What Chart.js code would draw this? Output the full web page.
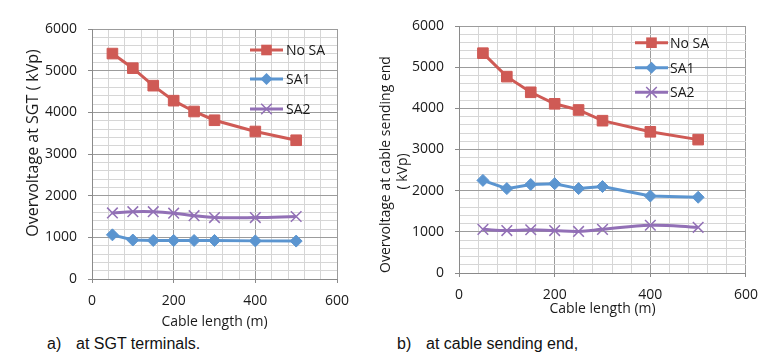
<!DOCTYPE html>
<html><head><meta charset="utf-8">
<script src="https://cdn.jsdelivr.net/npm/chart.js@4/dist/chart.umd.min.js"></script>
<style>
html,body{margin:0;padding:0;background:#fff;width:768px;height:360px;overflow:hidden;position:relative;font-family:"Liberation Sans",Arial,sans-serif;}
canvas{position:absolute;top:0;}
#ca{left:0}
#cb{left:376px}
.cap{position:absolute;font-size:16px;color:#111;top:335px;white-space:pre;line-height:18px;}
</style></head><body>
<canvas id="ca" width="384" height="335"></canvas>
<canvas id="cb" width="392" height="335"></canvas>
<div class="cap" style="left:47px">a)</div><div class="cap" style="left:76px">at SGT terminals.</div>
<div class="cap" style="left:397px">b)</div><div class="cap" style="left:426px">at cable sending end,</div>
<script>
// ---- data ----
const cableLength = [50, 100, 150, 200, 250, 300, 400, 500];
const seriesNames = ['No SA', 'SA1', 'SA2'];
// a) at SGT terminals
const sgtNoSA = [5410, 5060, 4640, 4280, 4020, 3810, 3540, 3330];
const sgtSA1  = [1060, 935, 925, 925, 925, 925, 915, 910];
const sgtSA2  = [1585, 1615, 1615, 1580, 1520, 1475, 1475, 1500];
// b) at cable sending end
const sendNoSA = [5340, 4770, 4390, 4110, 3960, 3700, 3430, 3240];
const sendSA1  = [2250, 2050, 2150, 2170, 2050, 2100, 1870, 1840];
const sendSA2  = [1060, 1030, 1050, 1030, 1010, 1060, 1160, 1110];
// tick labels
const xTickLabels = [0, 200, 400, 600];
const yTickLabels = [0, 1000, 2000, 3000, 4000, 5000, 6000];

// ---- styles ----
const RED = '#CF5A55', BLUE = '#5B95D0', PURPLE = '#9270B6';
const MAJOR = '#9c9c9c', MINOR = '#d6d6d6', AXIS = '#8a8a8a', TXT = '#1a1a1a';
const FONT = '"Open Sans", "Liberation Sans", sans-serif';
Chart.defaults.font.family = FONT;

function drawMarker(ctx, style, x, y, r, color, bw) {
  ctx.save();
  ctx.fillStyle = color; ctx.strokeStyle = color; ctx.lineWidth = bw;
  ctx.beginPath();
  if (style === 'rect') {
    const s = Math.SQRT1_2 * r;
    ctx.rect(x - s, y - s, 2 * s, 2 * s); ctx.fill();
  } else if (style === 'rectRot') {
    ctx.moveTo(x, y - r); ctx.lineTo(x + r, y); ctx.lineTo(x, y + r); ctx.lineTo(x - r, y); ctx.closePath(); ctx.fill();
  } else {
    const s = Math.SQRT1_2 * r;
    ctx.moveTo(x - s, y - s); ctx.lineTo(x + s, y + s);
    ctx.moveTo(x + s, y - s); ctx.lineTo(x - s, y + s); ctx.stroke();
  }
  ctx.restore();
}

const decor = {
  id: 'decor',
  afterDraw(chart, args, o) {
    const ctx = chart.ctx, ca = chart.chartArea;
    ctx.save();
    ctx.fillStyle = TXT; ctx.textAlign = 'center'; ctx.textBaseline = 'middle';
    ctx.font = `${o.xTitleSize}px ${FONT}`;
    ctx.fillText(o.xTitle, (ca.left + ca.right) / 2, ca.bottom + o.xTitleDy);
    o.yTitle.forEach(t => {
      ctx.save();
      ctx.translate(ca.left + t.dx, (ca.top + ca.bottom) / 2 + t.dy);
      ctx.rotate(-Math.PI / 2);
      ctx.font = `${t.size}px ${FONT}`;
      ctx.fillText(t.text, 0, 0);
      ctx.restore();
    });
    const L = o.legend;
    chart.data.datasets.forEach((ds, i) => {
      const y = ca.top + L.dy[i];
      ctx.save();
      ctx.strokeStyle = ds.borderColor; ctx.lineWidth = 3;
      ctx.beginPath(); ctx.moveTo(ca.left + L.x1, y); ctx.lineTo(ca.left + L.x2, y); ctx.stroke();
      ctx.restore();
      drawMarker(ctx, ds.pointStyle, ca.left + (L.x1 + L.x2) / 2, y, ds.pointRadius, ds.borderColor, ds.pointBorderWidth);
      ctx.fillStyle = TXT; ctx.textAlign = 'left'; ctx.font = `14px ${FONT}`;
      ctx.fillText(seriesNames[i], ca.left + L.tx, y + 1);
    });
    ctx.restore();
  }
};

function pts(arr) { return cableLength.map((x, i) => ({ x: x, y: arr[i] })); }

function makeChart(id, noSA, sa1, sa2, yWidth, xHeight, padTop, padRight, decorOpts) {
  return new Chart(document.getElementById(id), {
    type: 'line',
    data: {
      datasets: [
        { label: seriesNames[0], data: pts(noSA), borderColor: RED, backgroundColor: RED, pointBackgroundColor: RED, pointBorderColor: RED,
          pointStyle: 'rect', pointRadius: 7.5, pointBorderWidth: 1, borderWidth: 3, tension: 0 },
        { label: seriesNames[1], data: pts(sa1), borderColor: BLUE, backgroundColor: BLUE, pointBackgroundColor: BLUE, pointBorderColor: BLUE,
          pointStyle: 'rectRot', pointRadius: 6, pointBorderWidth: 1, borderWidth: 3, tension: 0 },
        { label: seriesNames[2], data: pts(sa2), borderColor: PURPLE, backgroundColor: PURPLE, pointBackgroundColor: PURPLE, pointBorderColor: PURPLE,
          pointStyle: 'crossRot', pointRadius: 7.5, pointBorderWidth: 1.5, borderWidth: 3, tension: 0.4 }
      ]
    },
    options: {
      responsive: false, animation: false, devicePixelRatio: 1,
      layout: { padding: { top: padTop, right: padRight, left: 0, bottom: 0 } },
      plugins: { legend: { display: false }, tooltip: { enabled: false }, decor: decorOpts },
      scales: {
        x: {
          type: 'linear', min: 0, max: 600,
          afterFit: s => { s.height = xHeight; },
          ticks: { stepSize: 40, autoSkip: false, maxRotation: 0, padding: 10, color: TXT, font: { size: 14 },
                   callback: v => xTickLabels.includes(v) ? String(v) : '' },
          grid: { color: c => (c.tick && c.tick.value % 200 === 0) ? MAJOR : MINOR,
                  tickColor: c => (c.tick && c.tick.value % 200 === 0) ? AXIS : 'rgba(0,0,0,0)',
                  tickLength: 4, lineWidth: 1 },
          border: { color: AXIS, width: 1 }
        },
        y: {
          type: 'linear', min: 0, max: 6000,
          afterFit: s => { s.width = yWidth; },
          ticks: { stepSize: 200, autoSkip: false, padding: 11, color: TXT, font: { size: 14 },
                   callback: v => yTickLabels.includes(v) ? String(v) : '' },
          grid: { color: c => (c.tick && c.tick.value % 1000 === 0) ? MAJOR : MINOR,
                  tickColor: c => (c.tick && c.tick.value % 1000 === 0) ? AXIS : 'rgba(0,0,0,0)',
                  tickLength: 4, lineWidth: 1 },
          border: { color: AXIS, width: 1 }
        }
      }
    },
    plugins: [decor]
  });
}

makeChart('ca', sgtNoSA, sgtSA1, sgtSA2, 92, 56, 29, 47, {
  xTitle: 'Cable length (m)', xTitleSize: 14, xTitleDy: 43,
  yTitle: [{ text: 'Overvoltage at SGT ( kVp)', size: 16, dx: -59, dy: -11 }],
  legend: { x1: 158, x2: 191, tx: 194, dy: [21, 50, 80] }
});
makeChart('cb', sendNoSA, sendSA1, sendSA2, 83, 62, 26, 22, {
  xTitle: 'Cable length (m)', xTitleSize: 14, xTitleDy: 36,
  yTitle: [{ text: 'Overvoltage at cable sending end', size: 14, dx: -73, dy: 15 },
           { text: '( kVp)', size: 14, dx: -56, dy: 22 }],
  legend: { x1: 176, x2: 209, tx: 211, dy: [16.7, 41.7, 66.3] }
});
</script>
</body></html>
